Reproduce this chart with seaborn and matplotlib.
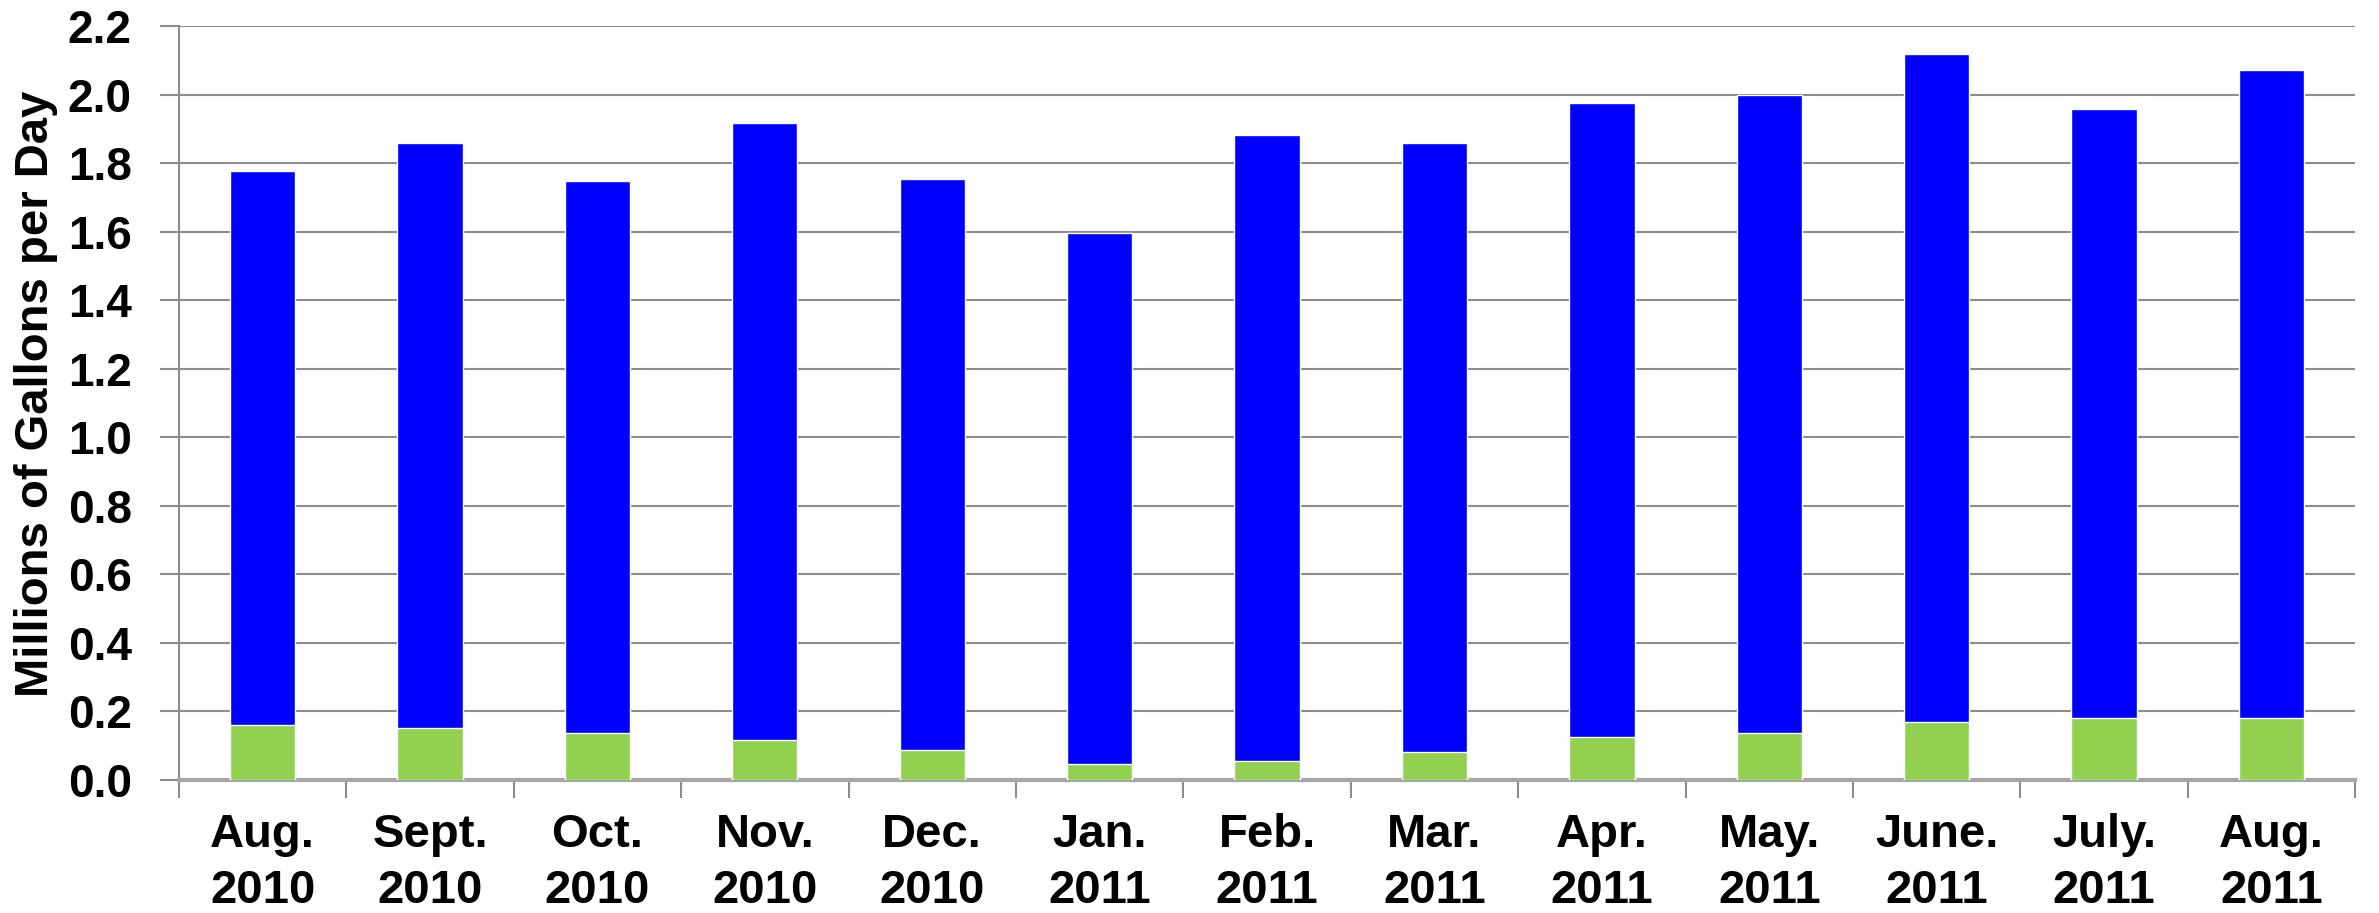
import numpy as np
import pandas as pd
import matplotlib
matplotlib.use("Agg")
import matplotlib.pyplot as plt
import seaborn as sns
from matplotlib.ticker import FixedLocator, MultipleLocator

# Monthly water use, millions of gallons per day
months = ["Aug.\n2010", "Sept.\n2010", "Oct.\n2010", "Nov.\n2010", "Dec.\n2010",
          "Jan.\n2011", "Feb.\n2011", "Mar.\n2011", "Apr.\n2011", "May.\n2011",
          "June.\n2011", "July.\n2011", "Aug.\n2011"]
green_vals = [0.160, 0.152, 0.138, 0.116, 0.087, 0.046, 0.054, 0.082,
              0.126, 0.136, 0.170, 0.182, 0.181]
blue_vals = [1.617, 1.707, 1.610, 1.801, 1.668, 1.550, 1.828, 1.778,
             1.848, 1.862, 1.948, 1.777, 1.892]

df = pd.DataFrame({"month": months, "green": green_vals, "blue": blue_vals})
df["total"] = df["green"] + df["blue"]

sns.set_theme(style="white")
plt.rcParams["font.family"] = ["Liberation Sans", "DejaVu Sans"]
plt.rcParams["font.weight"] = "bold"
plt.rcParams["text.color"] = "black"
plt.rcParams["xtick.labelcolor"] = "black"
plt.rcParams["ytick.labelcolor"] = "black"
plt.rcParams["axes.labelcolor"] = "black"

fig = plt.figure(figsize=(23.79, 9.13), dpi=100)
ax = fig.add_axes([0.0752, 0.1457, 0.9148, 0.8258])

# Stacked bars: full height in blue, lower segment overlaid in green
sns.barplot(data=df, x="month", y="total", color="#0000FF", width=0.39,
            saturation=1, ax=ax, zorder=3)
sns.barplot(data=df, x="month", y="green", color="#92D050", width=0.39,
            saturation=1, ax=ax, zorder=4)

n = len(months)
ax.set_xlim(-0.5, n - 0.5)
ax.set_ylim(0, 2.2)
ax.yaxis.set_major_locator(MultipleLocator(0.2))
ax.set_yticklabels([f"{v:.1f}" for v in ax.get_yticks()])
ax.grid(axis="y", color="#8c8c8c", linewidth=1.5, zorder=0)
ax.set_axisbelow(True)

# Category boundary tick marks on the x-axis
ax.xaxis.set_minor_locator(FixedLocator(np.arange(-0.5, n, 1.0)))
ax.tick_params(axis="x", which="major", length=0, labelsize=34, pad=24,
               labelcolor="black")
ax.tick_params(axis="x", which="minor", length=13, width=1.5, color="#8c8c8c",
               direction="out", bottom=True)
ax.tick_params(axis="y", which="major", length=14, width=1.5, color="#8c8c8c",
               direction="out", left=True, labelsize=33, pad=20,
               labelcolor="black")
for lab in ax.get_xticklabels() + ax.get_yticklabels():
    lab.set_fontweight("bold")
for lab in ax.get_xticklabels():
    lab.set_linespacing(1.33)

ax.set_xlabel("")
ax.set_ylabel("Millions of Gallons per Day", fontsize=34, fontweight="bold",
              color="black")
ax.yaxis.set_label_coords(-0.0556, 0.512)

for side in ["top", "right"]:
    ax.spines[side].set_visible(False)
ax.spines["left"].set_color("#8c8c8c")
ax.spines["left"].set_linewidth(1.5)
ax.spines["bottom"].set_color("#a6a6a6")
ax.spines["bottom"].set_linewidth(3)

fig.savefig("out.png", dpi=100, facecolor="white")
